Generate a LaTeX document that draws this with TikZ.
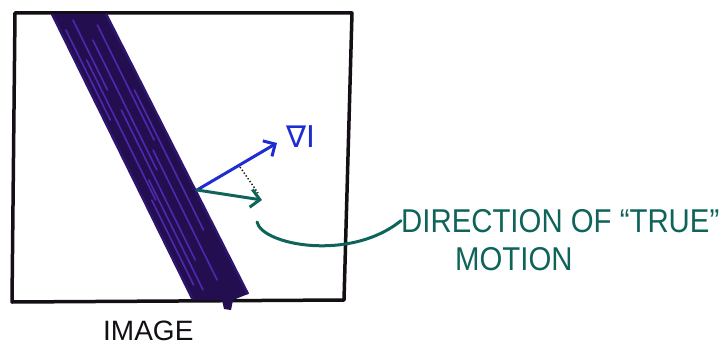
\documentclass[tikz,border=0pt]{standalone}
\usepackage{fontspec}
\setmainfont{Liberation Sans}
\newfontfamily\symfont{DejaVu Sans}
\usetikzlibrary{arrows.meta}
\definecolor{ink}{RGB}{20,15,20}
\definecolor{stripefill}{RGB}{35,15,80}
\definecolor{stripelight}{RGB}{80,40,175}
\definecolor{stripeedge}{RGB}{45,20,110}
\definecolor{gradblue}{RGB}{30,45,210}
\definecolor{teal}{RGB}{15,100,90}
\tikzset{
  frame/.style={draw=ink, line width=3.5pt, line join=round},
  hand/.style={line width=3pt, line cap=round},
  barb/.style={-{Straight Barb[length=9pt,width=18pt,line width=3pt]}},
  label/.style={inner sep=0pt, font=\fontsize{33}{33}\selectfont, xscale=0.89},
  streak/.style={stripelight, line width=1.6pt, line cap=round}
}
\begin{document}
\begin{tikzpicture}[x=1pt,y=-1pt]
\useasboundingbox (0,0) rectangle (725,345);
% image frame
\draw[frame] (15,13) -- (352,13) -- (344,300) -- (12,302) -- cycle;
% dark stripe
\fill[stripefill] (52,14) -- (106,14) -- (248,294) -- (233,300) -- (231,310) -- (224,309) -- (222,300) -- (192,300) -- cycle;
\foreach \dx/\a/\b in {6/30/120, 12/60/200, 18/20/90, 22/110/260, 28/40/170, 34/150/280, 40/25/140, 15/180/290, 45/90/230, 8/200/285}{
  \draw[streak] ({52+\dx+(\a-14)*0.493},\a) -- ({52+\dx+(\b-14)*0.493},\b);
}
\draw[stripeedge, line width=2.5pt, line join=round] (52,14) -- (192,298);
\draw[stripeedge, line width=2.5pt, line join=round] (106,14) -- (248,294);
% arrows
\coordinate (o) at (197,190);
\coordinate (gtip) at (277,143);
\coordinate (ttip) at (262,200);
\coordinate (d1) at (240,167);
\coordinate (d2) at (258,193);
\draw[hand, gradblue, barb] (o) -- (gtip);
\draw[hand, teal, barb] (o) -- (ttip);
\draw[ink, line width=1.4pt, dotted] (d1) -- (d2);
\node[gradblue, inner sep=0pt, anchor=base west, font=\symfont\fontsize{30}{30}\selectfont] (grad) at (286,147) {∇I};
% label
\node[label, teal, anchor=base west] (dir) at (401,232) {DIRECTION OF “TRUE”};
\node[label, teal, anchor=base west] (mot) at (455,270) {MOTION};
\coordinate (cstart) at (257,222);
\draw[hand, teal] (cstart) .. controls (262,245) and (350,262) .. (dir.west);
\node[inner sep=0pt, anchor=base west, font=\fontsize{28}{28}\selectfont, ink] (img) at (103,340) {IMAGE};
\end{tikzpicture}
\end{document}
